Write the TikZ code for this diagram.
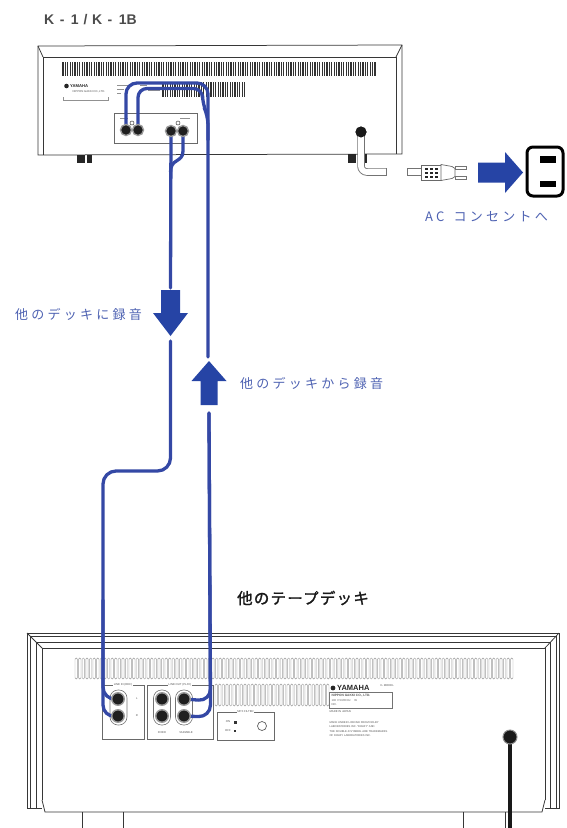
\documentclass[tikz,border=0pt]{standalone}
\usepackage{fontspec}
\setmainfont{Liberation Sans}
\newfontfamily\cjkwide[LetterSpace=25]{Noto Sans CJK JP}
\newfontfamily\cjkheavy[FakeBold=1.5,LetterSpace=8]{Noto Sans CJK JP}
\usetikzlibrary{calc}

\definecolor{cableblue}{RGB}{52,72,165}
\definecolor{arrowblue}{RGB}{38,68,165}
\definecolor{labelblue}{RGB}{78,98,178}
\definecolor{ink}{RGB}{55,55,55}

\tikzset{
  casing/.style={draw=ink, line width=0.75},
  panel/.style={draw=ink!75, line width=0.6},
  cable/.style={draw=cableblue, line width=3.3, line cap=round, line join=round},
  blockarrow/.style={fill=arrowblue},
  jack/.style={circle, fill=black!88, draw=black!40, line width=1.4, minimum size=11pt, inner sep=0pt},
  jackring/.style={draw=ink!70, line width=0.6, rounded corners=8},
  groundmark/.style={circle, draw=ink, line width=0.5, minimum size=4pt, inner sep=0pt},
  ventbar/.style={draw=black!80, line width=1.2},
  ventslot/.style={draw=black!38, line width=0.45, rounded corners=1.2},
  finetext/.style={font=\fontsize{2.8}{3.4}\selectfont, text=ink!85, inner sep=0.4pt},
  printline/.style={draw=ink!55, line width=0.5},
  bluelabel/.style={font=\cjkwide\fontsize{13}{15}\selectfont, text=labelblue, inner sep=0pt},
}

\begin{document}
\begin{tikzpicture}[x=1pt,y=-1pt]
\useasboundingbox (0,0) rectangle (566,828);

% ---------- model name ----------
\node[anchor=west, font=\bfseries\fontsize{14}{16}\selectfont, text=ink!90, inner sep=0pt] (title) at (44,20)
  {K\hspace{5.5pt}-\hspace{6.5pt}1\hspace{5pt}/\hspace{4.5pt}K\hspace{5.5pt}-\hspace{6.5pt}1B};

% ---------- K-1 rear panel ----------
\draw[casing] (38,155) -- (38,46) -- (402,45) -- (402,154) -- cycle;
\draw[casing] (43,155) -- (43,57) -- (396,57) -- (396,154);
\draw[casing] (38,46) -- (43,57);
\draw[casing] (402,45) -- (396,57);

\foreach \i in {0,...,130} \draw[ventbar] ({63+\i*2.4},62) -- ++(0,14);
\foreach \i in {0,...,34} \draw[ventbar] ({163+\i*2.4},82) -- ++(0,15);

% maker plate
\fill[black!85] (66.5,86) circle (2.3);
\node[anchor=west, font=\bfseries\fontsize{4.2}{5}\selectfont, text=black!85, inner sep=0pt] (k1maker) at (70,86) {YAMAHA};
\node[anchor=west, finetext] (k1nippon) at (72,92) {NIPPON GAKKI CO.,LTD.};
\draw[printline] (63,97) -- (63,100) -- (108,100) -- (108,97);
\draw[printline] (117,85) -- (128,85) (117,89) -- (124,89) (117,93) -- (121,93);
\draw[printline] (148,90) -- (160,90) (140,85) -- (147,85);

% feet
\fill[black!85] (77,155) rectangle (85,163);
\fill[black!85] (87,155) rectangle (92,163);
\fill[black!85] (348,154) rectangle (356,163);
\fill[black!85] (362,154) rectangle (367,163);

% jack panel
\draw[panel] (114,113) rectangle (197,143);
\draw[printline] (120,118) -- (128,118) (180,118) -- (190,118);
\node[groundmark] (k1gndA) at (132,123) {};
\node[groundmark] (k1gndB) at (178,123) {};
\coordinate (k1recL) at (126,130);
\coordinate (k1recR) at (138,130);
\coordinate (k1playL) at (171,131);
\coordinate (k1playR) at (183,131);

% ---------- power cord and outlet ----------
\node[circle, fill=black!90, minimum size=11pt, inner sep=0pt] (grommet) at (361,132) {};
\draw[draw=ink!70, line width=7.5, rounded corners=6] (grommet.center) -- (361,172) -- (386,172);
\draw[draw=white, line width=5.8, rounded corners=6] (grommet.center) -- (361,172) -- (386.2,172);
\draw[ink!70, line width=0.8] (386,168.2) -- (386,175.8);
\node[circle, fill=black!90, minimum size=11pt, inner sep=0pt] at (grommet) {};

\draw[ink!70, line width=0.7, fill=white] (407,168.5) rectangle (421,175.5);
\draw[ink!75, line width=0.7, fill=white] (421,165) rectangle (441,180);
\foreach \x in {424.5,429.5,434.5} \foreach \y in {167.5,171.5,175.5} \fill[black!85] (\x,\y) rectangle ++(3,2.2);
\draw[ink!75, line width=0.7, fill=white] (441,164.5) -- (452,166.5) -- (455,168.5) -- (455,176.5) -- (452,178.5) -- (441,180.5) -- cycle;
\draw[ink!70, line width=0.6, fill=white] (455,165.8) rectangle (466,168.8);
\draw[ink!70, line width=0.6, fill=white] (455,176.2) rectangle (466,179.2);

\fill[blockarrow] (478,162.5) -- (505,162.5) -- (505,152) -- (523,172.5) -- (505,193) -- (505,182.5) -- (478,182.5) -- cycle;

\node[draw=black, line width=3, rounded corners=6, minimum width=36pt, minimum height=49pt, inner sep=0pt] (outlet) at (545,171.5) {};
\fill[black] (540,156) rectangle (556,162.5);
\fill[black] (540,180.5) rectangle (556,187);
\node[bluelabel, anchor=west] (aclabel) at (425,217) {AC\kern9pt コンセントへ};

% ---------- other deck rear panel ----------
\node[font=\cjkheavy\fontsize{15.5}{17}\selectfont, text=black!90, inner sep=0pt] (decklabel) at (303,598) {他のテープデッキ};

% bezel bands
\draw[casing] (42,808) -- (27,808) -- (27,633) -- (559,633) -- (559,808) -- (545,808);
\foreach \d in {3,9} \draw[casing, line width=0.55] ({27+\d},808) -- ({27+\d},{633+\d}) -- ({559-\d},{633+\d}) -- ({559-\d},808);
\draw[casing] (42,800) -- (42,648) -- (545,648) -- (545,800);
\draw[casing] (27,633) -- (42,648);
\draw[casing] (559,633) -- (545,648);
\draw[casing] (42,800) -- (45,812) -- (542,812) -- (545,800);
\draw[casing] (82,812) -- (82,830) (123,812) -- (123,830);
\draw[casing] (463,812) -- (463,830) (505,812) -- (505,830);

% vent slots
\foreach \i in {0,...,121} \draw[ventslot] ({75+\i*3.6},658) rectangle ++(2.4,21);
\foreach \i in {0,...,31} \draw[ventslot] ({215+\i*3.6},684) rectangle ++(2.4,22);

% jack boxes
\draw[panel] (102,685) rectangle (144,739);
\draw[panel] (147,685) rectangle (213,739);
\draw[panel] (217,712) rectangle (274,740);
\node[finetext, fill=white] (lineinlabel) at (123,685) {LINE IN (REC)};
\node[finetext, fill=white] (lineoutlabel) at (180,685) {LINE OUT (PLAY)};
\node[finetext, fill=white] (mpxlabel) at (245.5,712) {MPX FILTER};
\node[finetext] (chL) at (137,699) {L};
\node[finetext] (chR) at (137,716) {R};
\node[finetext] (fixedlabel) at (162,733) {FIXED};
\node[finetext] (varlabel) at (186,733) {VARIABLE};
\node[finetext] (onlabel) at (228,722) {ON};
\fill[black!80] (233.5,720.5) rectangle ++(3,3);
\node[finetext] (offlabel) at (228,731) {OFF};
\fill[black!80] (234,730.2) rectangle ++(1.8,1.8);
\node[circle, draw=ink!80, line width=0.7, minimum size=9pt, inner sep=0pt] (mpxknob) at (262,726) {};

\draw[jackring] (110,690) rectangle (127,725);
\draw[jackring] (153.5,690) rectangle (170.5,725);
\draw[jackring] (175.5,690) rectangle (192.5,725);

% maker plate
\fill[black!85] (333,688) circle (2.4);
\node[anchor=west, font=\bfseries\fontsize{7.5}{8}\selectfont, text=black!85, inner sep=0pt] (deckmaker) at (337,688) {YAMAHA};
\node[anchor=west, finetext] (deckmodel) at (380,686) {K-\,MODEL};
\draw[ink!70, line width=0.5] (329,692) rectangle (392,708);
\node[anchor=west, finetext, font=\bfseries\fontsize{3.2}{3.6}\selectfont] (nippon) at (331,695.5) {NIPPON GAKKI CO., LTD.};
\node[anchor=west, finetext] (rating) at (331,700.5) {100 V 50/60 Hz \quad W};
\node[anchor=west, finetext] (serial) at (331,705) {NO.};
\node[anchor=west, finetext] (madein) at (329,712) {MADE IN JAPAN};
\node[anchor=north west, finetext, align=left, font=\fontsize{2.7}{4.4}\selectfont] (dolby) at (329,721)
  {MADE UNDER LICENSE FROM DOLBY\\LABORATORIES INC. "DOLBY" AND\\THE DOUBLE-D SYMBOL ARE TRADEMARKS\\OF DOLBY LABORATORIES INC.};

% power cord
\draw[black!90, line width=4] (510,737) -- (510,830);
\node[circle, fill=black!90, draw=black!45, line width=1, minimum size=14pt, inner sep=0pt] (deckgrommet) at (510,737) {};

% ---------- connecting cables ----------
\coordinate (downTip) at (170.5,336);
\coordinate (upTip) at (209,361);

\coordinate (deckinL) at (118,699);
\coordinate (deckinR) at (118,716);
\coordinate (deckvarL) at (184,699);
\coordinate (deckvarR) at (184,716);

% K-1 REC IN  <-  other deck LINE OUT
\draw[cable, rounded corners=11] (k1recL) -- (126,83) -- (208,83) -- (208,357);
\draw[cable, rounded corners=9] (k1recR) -- (138,88.5) -- (202.5,88.5) -- (202.5,104) -- (208,116) -- (208,140);
\draw[cable, rounded corners=12] (209,413) -- (210.5,701) -- (deckvarL);
\draw[cable, rounded corners=12] (209,413) -- (210.5,717) -- (deckvarR);

% K-1 PLAY OUT  ->  other deck LINE IN
\draw[cable] (k1playL) -- (170.5,288);
\draw[cable] (k1playR) -- (183,151) .. controls (183,163) and (170.5,158) .. (170.5,172);
\draw[cable, rounded corners=13] (170.5,341) -- (170.5,471) -- (103,471) -- (103,700) -- (deckinL);
\draw[cable, rounded corners=12] (103,600) -- (103,717) -- (deckinR);

% direction arrows
\fill[blockarrow] (161,290) -- (180,290) -- (180,313) -- (188,313) -- (downTip) -- (153,313) -- (161,313) -- cycle;
\fill[blockarrow] (200.5,405) -- (217.5,405) -- (217.5,381) -- (226.5,381) -- (upTip) -- (191.5,381) -- (200.5,381) -- cycle;

\node[bluelabel, anchor=west] (reclabel) at (15,314) {他のデッキに録音};
\node[bluelabel, anchor=west] (playlabel) at (240,383) {他のデッキから録音};

% jacks on top of the plugged cables
\foreach \p in {k1recL,k1recR,k1playL,k1playR} \node[jack] at (\p) {};
\foreach \p in {deckinL,deckinR,deckvarL,deckvarR} \node[jack, minimum size=12.5pt] at (\p) {};
\node[jack, minimum size=12.5pt] (deckfixL) at (162,699) {};
\node[jack, minimum size=12.5pt] (deckfixR) at (162,716) {};

\end{tikzpicture}
\end{document}
